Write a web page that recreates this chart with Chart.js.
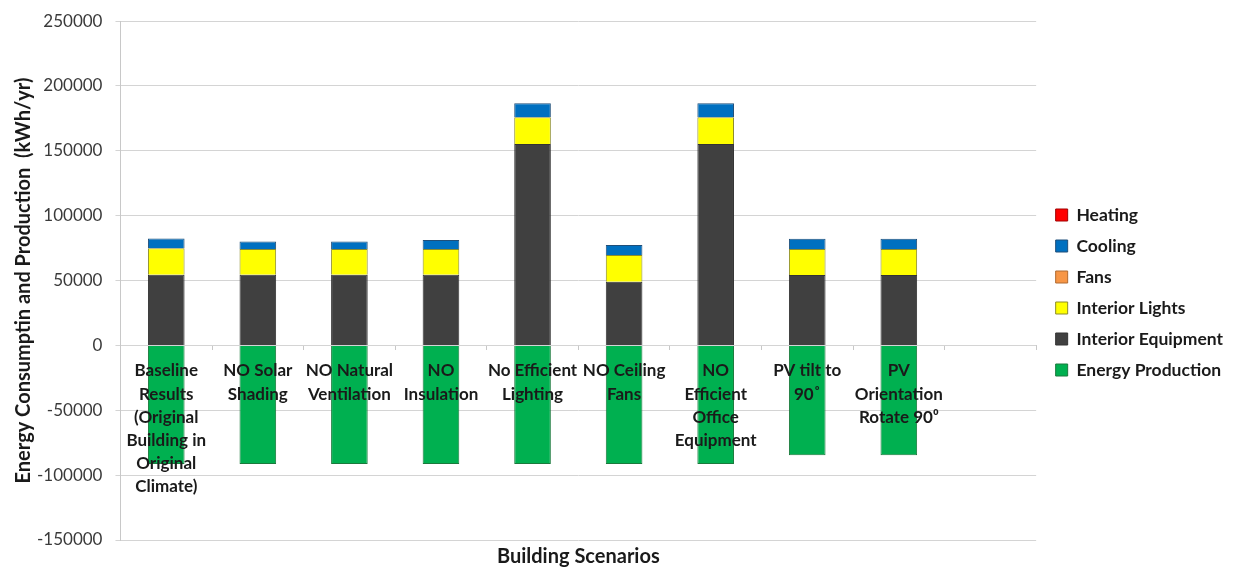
<!DOCTYPE html>
<html>
<head>
<meta charset="utf-8">
<script src="https://cdn.jsdelivr.net/npm/chart.js@4.4.0/dist/chart.umd.min.js"></script>
<style>
html,body{margin:0;padding:0;background:#fff;}
#wrap{width:1235px;height:569px;position:relative;}
</style>
</head>
<body>
<div id="wrap"><canvas id="c" width="1235" height="569"></canvas></div>
<script>
const categories = [
  ["Baseline","Results","(Original","Building in","Original","Climate)"],
  ["NO Solar","Shading"],
  ["NO Natural","Ventilation"],
  ["NO","Insulation"],
  ["No Efficient","Lighting"],
  ["NO Ceiling","Fans"],
  ["NO","Efficient","Office","Equipment"],
  ["PV tilt to","90˚"],
  ["PV","Orientation","Rotate 90⁰"],
  ""
];
const energyProduction  = [-91500,-91500,-91500,-91500,-91500,-91500,-91500,-84600,-84600,null];
const interiorEquipment = [54400,54400,54400,54400,155300,49100,155300,54300,54300,null];
const interiorLights    = [20400,20000,20000,20000,20500,20500,20500,20000,20000,null];
const fans              = [0,0,0,0,0,0,0,0,0,null];
const cooling           = [7600,5600,5600,6900,10900,7700,10900,8000,8000,null];
const heating           = [0,0,0,0,0,0,0,0,0,null];
const yTicks = [-150000,-100000,-50000,0,50000,100000,150000,200000,250000];

const FONT = "Lato, 'Open Sans', 'DejaVu Sans', sans-serif";
const LEGEND_GAP = 2;
const LEGEND_SHIFT = 6;

function ds(label, data, bg, border){
  return {label, data, backgroundColor:bg, borderColor:border, borderWidth:1, stack:'s',
          barPercentage:0.40, categoryPercentage:1.0};
}

const legendGapPlugin = {
  id:'legendGap',
  afterInit(chart){
    const lg = chart.legend;
    if (!lg) return;
    const f = lg.fit.bind(lg);
    lg.fit = function(){ f(); this.width += LEGEND_GAP; };
  },
  afterLayout(chart){
    const lg = chart.legend;
    if (lg) { lg.left += LEGEND_SHIFT; }
  }
};

new Chart(document.getElementById('c'), {
  type:'bar',
  plugins:[legendGapPlugin],
  data:{
    labels: categories,
    datasets:[
      ds('Energy Production', energyProduction, '#00B050', '#1a7a3c'),
      ds('Interior Equipment', interiorEquipment, '#404040', '#333333'),
      ds('Interior Lights', interiorLights, '#FFFF00', '#8c8c2a'),
      ds('Fans', fans, '#F79646', '#b06a30'),
      ds('Cooling', cooling, '#0070C0', '#1f4f7a'),
      ds('Heating', heating, '#FF0000', '#a00000')
    ]
  },
  options:{
    responsive:false,
    animation:false,
    layout:{padding:{top:16,left:12,right:6,bottom:0}},
    scales:{
      x:{
        stacked:true,
        position:{y:0},
        grid:{display:true, drawOnChartArea:false, drawTicks:true, tickLength:5, color:'#c8c8c8', offset:true},
        border:{display:false},
        ticks:{z:1, font:{family:FONT, size:17, weight:'bold', lineHeight:1.36}, color:'#1a1a1a', maxRotation:0, minRotation:0, autoSkip:false, padding:9}
      },
      y:{
        stacked:true,
        min:-150000, max:250000,
        afterBuildTicks(axis){ axis.ticks = yTicks.map(v=>({value:v})); },
        afterFit(axis){ axis.width -= 16; },
        grid:{color:'#d4d4d4', drawTicks:true, tickLength:5},
        border:{display:true, color:'#c8c8c8'},
        ticks:{font:{family:FONT, size:17, lineHeight:0.95}, color:'#3a3a3a', padding:13, callback:(v)=>String(v)},
        title:{display:true, text:'Energy Consumptin and Production  (kWh/yr)', font:{family:FONT, size:20, weight:'bold'}, color:'#1a1a1a', padding:{top:0,bottom:4}}
      }
    },
    plugins:{
      legend:{
        position:'right',
        reverse:true,
        labels:{font:{family:FONT, size:17.5, weight:'bold'}, color:'#1a1a1a', boxWidth:12, boxHeight:12, padding:13.5}
      },
      title:{
        display:true, position:'bottom', text:'Building Scenarios', fullSize:false,
        font:{family:FONT, size:20, weight:'bold'}, color:'#1a1a1a', padding:{top:5,bottom:0}
      },
      tooltip:{enabled:false}
    }
  }
});
</script>
</body>
</html>
